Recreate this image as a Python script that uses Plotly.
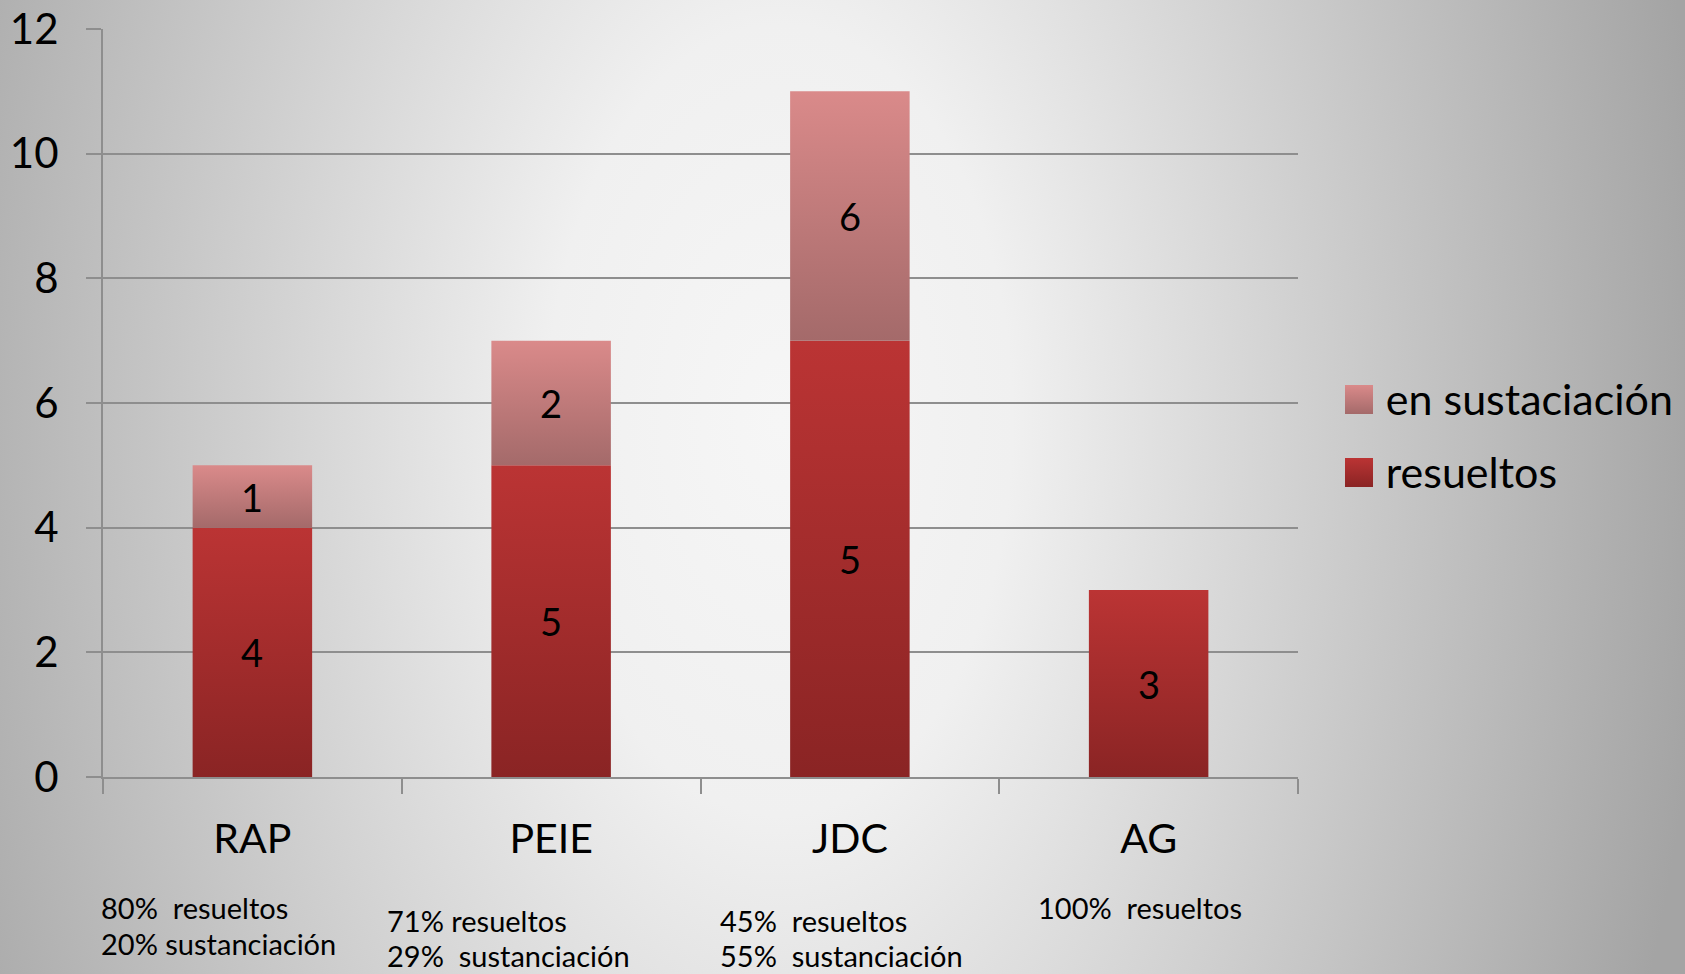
import base64
import plotly.graph_objects as go

# ---------------- data ----------------
categories = ["RAP", "PEIE", "JDC", "AG"]
resueltos = [4, 5, 7, 3]
sustanciacion = [1, 2, 4, 0]
resueltos_labels = ["4", "5", "5", "3"]
sustanciacion_labels = ["1", "2", "6", ""]
pct_line1 = ["80%  resueltos", "71% resueltos", "45%  resueltos", "100%  resueltos"]
pct_line2 = ["20% sustanciación", "29%  sustanciación", "55%  sustanciación", ""]
y_ticks = [0, 2, 4, 6, 8, 10, 12]
series_names = ["resueltos", "en sustaciación"]

# ---------------- style ----------------
W, H = 1685, 974
ML, MR, MT, MB = 103, 387, 29, 197
PW, PH = W - ML - MR, H - MT - MB
FONT = "Lato, Open Sans, sans-serif"
GRID = "#8e8e8e"
BW = 0.40
res_scale = [[0, "#8a2424"], [1, "#bb3434"]]
sus_scale = [[0, "#a46a6a"], [1, "#da8a8a"]]

fig = go.Figure()

def add_bar(i, base, val, scale, name):
    x0, x1 = i - BW / 2, i + BW / 2
    fig.add_trace(go.Scatter(
        x=[x0, x1, x1, x0, x0],
        y=[base, base, base + val, base + val, base],
        mode="lines", fill="toself", line=dict(width=0),
        fillgradient=dict(type="vertical", colorscale=scale),
        name=name, legendgroup=name, showlegend=False,
        hoveron="fills", hoverinfo="name+text",
        text=f"{categories[i]}: {val}",
    ))

for i in range(len(categories)):
    add_bar(i, 0, resueltos[i], res_scale, series_names[0])
for i in range(len(categories)):
    if sustanciacion[i] > 0:
        add_bar(i, resueltos[i], sustanciacion[i], sus_scale, series_names[1])

# legend entries (symbols drawn as gradient squares below)
for name, rank in ((series_names[1], 1), (series_names[0], 2)):
    fig.add_trace(go.Scatter(
        x=[None], y=[None], mode="lines", fill="toself",
        fillcolor="rgba(0,0,0,0)", line=dict(width=0, color="rgba(0,0,0,0)"),
        name=name, legendgroup=name, legendrank=rank, showlegend=True))

annotations = []

# value labels inside the bar segments
for i in range(len(categories)):
    annotations.append(dict(
        text=resueltos_labels[i], x=i, y=resueltos[i] / 2, xref="x", yref="y",
        showarrow=False, font=dict(family=FONT, size=38, color="black")))
    if sustanciacion_labels[i]:
        annotations.append(dict(
            text=sustanciacion_labels[i], x=i, y=resueltos[i] + sustanciacion[i] / 2,
            xref="x", yref="y", showarrow=False,
            font=dict(family=FONT, size=38, color="black")))

# percentage notes below categories
note_x = [-0.5, 0.458, 1.572, 2.636]
note_y1 = [908, 920, 920, 908]
for i in range(len(categories)):
    for txt, py in ((pct_line1[i], note_y1[i]), (pct_line2[i], note_y1[i] + 35)):
        if txt:
            annotations.append(dict(
                text=txt, x=note_x[i], xref="x", xanchor="left", xshift=-4,
                y=(MT + PH - py) / PH, yref="paper", yanchor="middle",
                showarrow=False, font=dict(family=FONT, size=29, color="black")))

# radial background
svg = (
    f"<svg xmlns='http://www.w3.org/2000/svg' width='{W}' height='{H}'>"
    "<defs><radialGradient id='g' gradientUnits='userSpaceOnUse' cx='780' cy='420' r='930' "
    "gradientTransform='translate(780 420) scale(1 1.7) translate(-780 -420)'>"
    "<stop offset='0' stop-color='#f6f6f6'/><stop offset='0.25' stop-color='#f0f0f0'/>"
    "<stop offset='1' stop-color='#a4a4a4'/></radialGradient></defs>"
    f"<rect width='{W}' height='{H}' fill='url(#g)'/></svg>"
)
uri = "data:image/svg+xml;base64," + base64.b64encode(svg.encode()).decode()

def square_uri(top, bottom):
    s = ("<svg xmlns='http://www.w3.org/2000/svg' width='28' height='29'>"
         "<defs><linearGradient id='s' x1='0' y1='0' x2='0' y2='1'>"
         f"<stop offset='0' stop-color='{top}'/><stop offset='1' stop-color='{bottom}'/>"
         "</linearGradient></defs><rect width='28' height='29' fill='url(#s)'/></svg>")
    return "data:image/svg+xml;base64," + base64.b64encode(s.encode()).decode()

images = [dict(source=uri, xref="paper", yref="paper",
               x=-ML / PW, y=1 + MT / PH, sizex=W / PW, sizey=H / PH,
               sizing="stretch", xanchor="left", yanchor="top", layer="below")]
for (top, bottom), py in (((sus_scale[1][1], sus_scale[0][1]), 385),
                          ((res_scale[1][1], res_scale[0][1]), 458)):
    images.append(dict(source=square_uri(top, bottom), xref="paper", yref="paper",
                       x=(1345 - ML) / PW, y=(MT + PH - py) / PH, sizex=28 / PW, sizey=29 / PH,
                       sizing="stretch", xanchor="left", yanchor="top", layer="above"))

fig.update_layout(
    width=W, height=H,
    margin=dict(l=ML, r=MR, t=MT, b=MB, pad=0, autoexpand=False),
    paper_bgcolor="#c8c8c8", plot_bgcolor="rgba(0,0,0,0)",
    font=dict(family=FONT, color="black"),
    images=images,
    xaxis=dict(range=[-0.5, 3.5], tickvals=list(range(len(categories))), ticktext=categories,
               ticks="", showgrid=False, zeroline=False, showline=True, automargin=False,
               linecolor=GRID, linewidth=2, tickfont=dict(family=FONT, size=41),
               ticklabelstandoff=25, fixedrange=True,
               minor=dict(tickvals=[-0.5, 0.5, 1.5, 2.5, 3.5], ticks="outside",
                          ticklen=15, tickwidth=2, tickcolor=GRID, showgrid=False)),
    yaxis=dict(range=[0, 12], tickvals=y_ticks, ticks="outside", ticklen=15, tickwidth=2,
               tickcolor=GRID, gridcolor=GRID, gridwidth=2, showline=True, automargin=False,
               linecolor=GRID, linewidth=2, zeroline=False,
               tickfont=dict(family=FONT, size=42), ticklabelstandoff=19, fixedrange=True),
    legend=dict(x=1.040, y=0.458, xanchor="left", yanchor="middle",
                font=dict(family=FONT, size=43), bgcolor="rgba(0,0,0,0)",
                tracegroupgap=14, itemwidth=30),
    annotations=annotations,
    hovermode="closest",
)

fig.write_html("out.html", config={"displayModeBar": False},
               post_script="document.body.style.margin='0px';")
